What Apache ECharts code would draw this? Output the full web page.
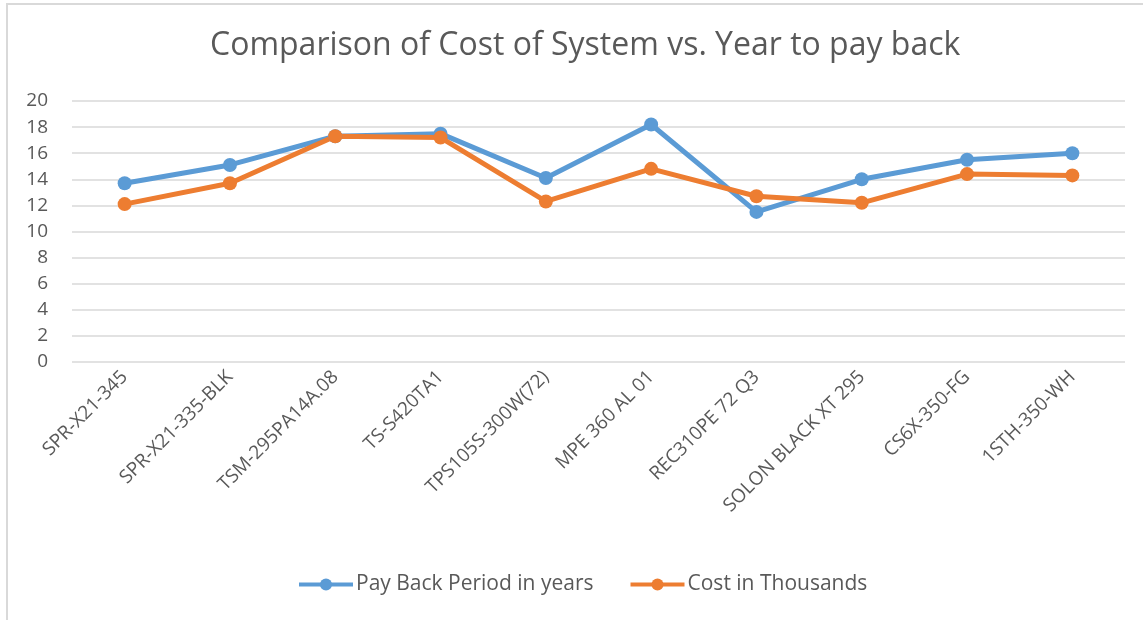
<!DOCTYPE html>
<html>
<head>
<meta charset="utf-8">
<script src="https://cdn.jsdelivr.net/npm/echarts@6/dist/echarts.min.js"></script>
<style>
  html, body { margin: 0; padding: 0; background: #fff; }
  #frame { position: absolute; left: 6px; top: 3px; width: 1137px; height: 617px;
           border-top: 2px solid #d9d9d9; border-left: 2px solid #d9d9d9; }
  #chart { position: absolute; left: 0; top: 0; width: 1143px; height: 620px; }
</style>
</head>
<body>
<div id="frame"></div>
<div id="chart"></div>
<script>
let models = ['SPR-X21-345', 'SPR-X21-335-BLK', 'TSM-295PA14A.08', 'TS-S420TA1', 'TPS105S-300W(72)',
  'MPE 360 AL 01', 'REC310PE 72 Q3', 'SOLON BLACK XT 295', 'CS6X-350-FG', '1STH-350-WH']
let payBack = [13.7, 15.1, 17.3, 17.5, 14.1, 18.2, 11.5, 14.0, 15.5, 16.0]
let cost = [12.1, 13.7, 17.3, 17.2, 12.3, 14.8, 12.7, 12.2, 14.4, 14.3]
let yTicks = [0, 20, 2]  // min, max, interval

let txt = '#595959'
let font = "'Open Sans', sans-serif"

let chart = echarts.init(document.getElementById('chart'))

chart.setOption({
  animation: false,
  textStyle: { fontFamily: font, color: txt },
  title: {
    text: 'Comparison of Cost of System vs. Year to pay back',
    left: 205,
    top: 25,
    textStyle: { fontFamily: font, fontSize: 32, fontWeight: 'normal', color: txt }
  },
  legend: {
    bottom: 20,
    left: 292,
    itemWidth: 54,
    itemHeight: 15,
    itemGap: 35,
    textStyle: { fontFamily: font, fontSize: 21, color: txt, padding: [0, 0, 0, -2] },
    lineStyle: { width: 4 },
    data: ['Pay Back Period in years', 'Cost in Thousands']
  },
  grid: { left: 72, right: 18, top: 101, bottom: 258 },
  xAxis: {
    type: 'category',
    data: models,
    boundaryGap: true,
    axisLine: { show: false },
    axisTick: { show: false },
    axisLabel: { rotate: 45, fontSize: 19, color: txt, margin: 12, interval: 0 }
  },
  yAxis: {
    type: 'value',
    min: yTicks[0],
    max: yTicks[1],
    interval: yTicks[2],
    axisLine: { show: false },
    axisTick: { show: false },
    axisLabel: { fontSize: 19, color: txt, margin: 24 },
    splitLine: { lineStyle: { color: '#d9d9d9', width: 1.5 } }
  },
  series: [
    {
      name: 'Pay Back Period in years',
      type: 'line',
      data: payBack,
      symbol: 'circle',
      symbolSize: 14,
      itemStyle: { color: '#5b9bd5' },
      lineStyle: { width: 5, color: '#5b9bd5' }
    },
    {
      name: 'Cost in Thousands',
      type: 'line',
      data: cost,
      symbol: 'circle',
      symbolSize: 14,
      itemStyle: { color: '#ed7d31' },
      lineStyle: { width: 5, color: '#ed7d31' }
    }
  ]
})
</script>
</body>
</html>
